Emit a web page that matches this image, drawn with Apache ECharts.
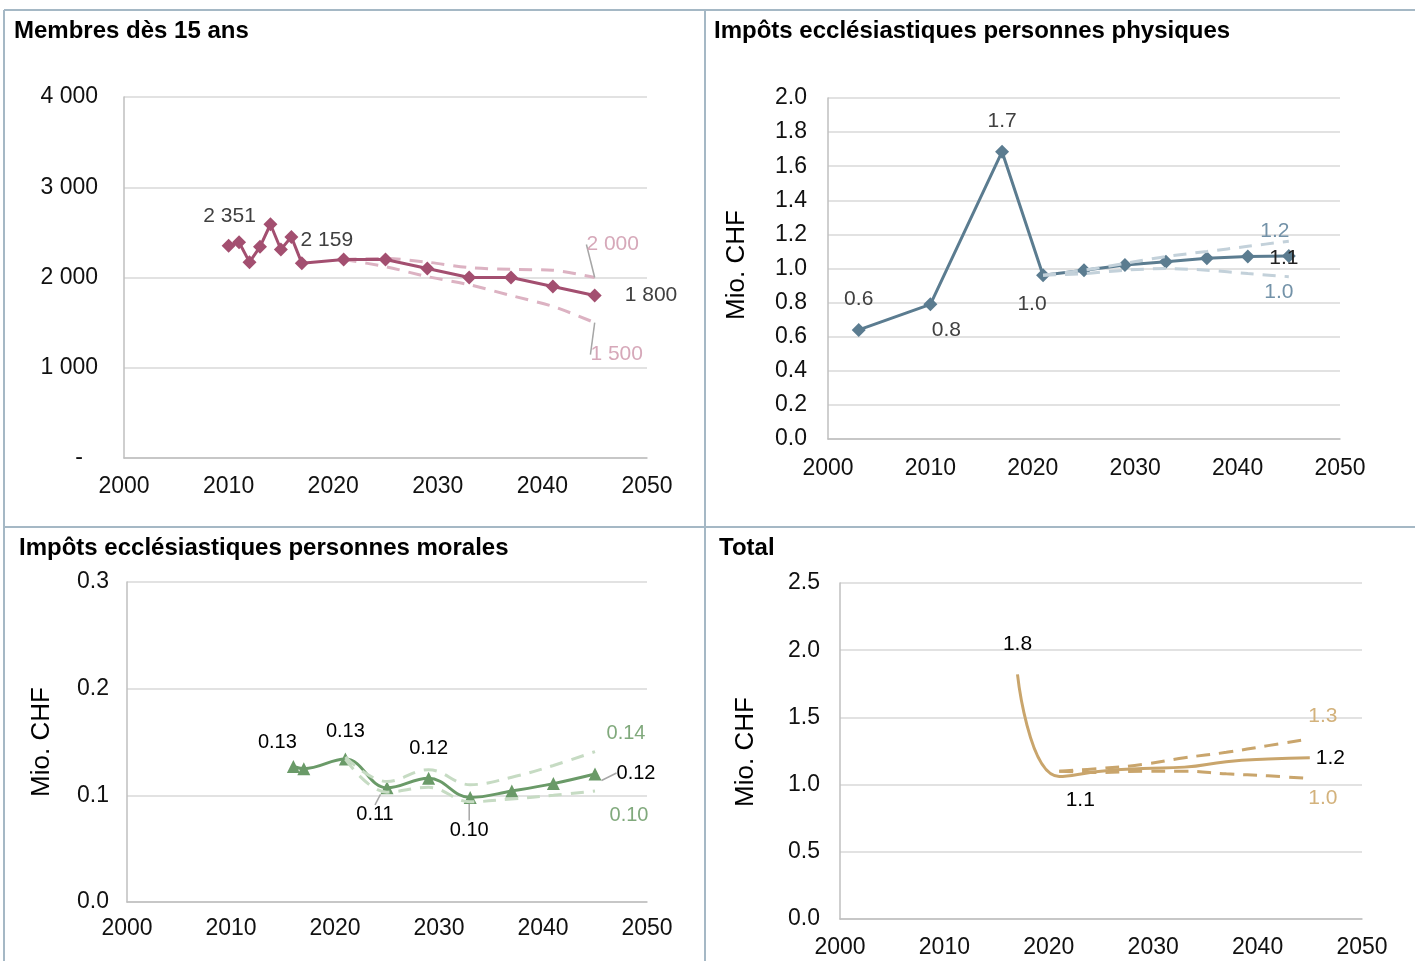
<!DOCTYPE html>
<html><head><meta charset="utf-8">
<script src="https://cdn.jsdelivr.net/npm/echarts@6/dist/echarts.min.js"></script>
<style>html,body{margin:0;padding:0;background:#fff}#c{width:1415px;height:961px}</style>
</head><body><div id="c"></div>
<script>
// ---------- data ----------
const xTicks = [2000, 2010, 2020, 2030, 2040, 2050];

const membersYears = [2010,2011,2012,2013,2014,2015,2016,2017,2021,2025,2029,2033,2037,2041,2045];
const membersValues = [2351,2390,2170,2340,2590,2310,2450,2159,2200,2200,2100,2000,2000,1900,1800];
const projYears = [2021,2025,2029,2033,2037,2041,2045];
const membersHigh = [2200,2210,2170,2110,2090,2080,2000];
const membersLow  = [2200,2120,2010,1920,1800,1680,1500];

const physYears = [2003,2010,2017,2021,2025,2029,2033,2037,2041,2045];
const physValues = [0.64,0.79,1.685,0.96,0.99,1.02,1.04,1.06,1.07,1.073];
const physHigh = [0.96,0.99,1.03,1.07,1.10,1.13,1.16];
const physLow  = [0.96,0.97,0.99,1.00,0.99,0.97,0.952];

const moralYears = [2016,2017,2021,2025,2029,2033,2037,2041,2045];
const moralValues = [0.127,0.125,0.134,0.107,0.116,0.098,0.104,0.111,0.12];
const moralHigh = [0.136,0.113,0.124,0.110,0.117,0.128,0.141];
const moralLow  = [0.134,0.103,0.1075,0.094,0.0966,0.100,0.104];

const totalYears = [2017,2021,2025,2029,2033,2037,2041,2045];
const totalValues = [1.82,1.06,1.10,1.12,1.13,1.17,1.19,1.20];
const totalHigh = [1.10,1.12,1.15,1.20,1.24,1.29,1.34];
const totalLow  = [1.10,1.09,1.10,1.10,1.08,1.065,1.045];

const titles = ['Membres dès 15 ans','Impôts ecclésiastiques personnes physiques','Impôts ecclésiastiques personnes morales','Total'];
const yName = 'Mio. CHF';

// ---------- helpers ----------
const font = "'Liberation Sans', Arial, sans-serif";
const thou = v => { const s = String(Math.round(v)); return s.replace(/\B(?=(\d{3})+(?!\d))/g, ' '); };
const f1 = p => p.value[1].toFixed(1);
const f2 = p => p.value[1].toFixed(2);
const fT = p => thou(p.value[1]);

function mk(gi, years, vals, o) {
  const labels = o.labels || {};
  const data = years.map((y, i) => {
    const L = labels[i];
    const item = { value: [y, vals[i]] };
    if (L) {
      item.label = Object.assign({ show: true }, L.label || { position: 'inside' });
      if (L.line) item.labelLine = { show: true, lineStyle: { color: '#a6a6a6', width: 1.5 } };
    } else {
      item.label = { show: false };
    }
    return item;
  });
  return {
    type: 'line', xAxisIndex: gi, yAxisIndex: gi, data,
    smooth: o.smooth || false,
    symbol: o.symbol || 'circle',
    symbolSize: o.symbolSize != null ? o.symbolSize : 0,
    showSymbol: true,
    itemStyle: { color: o.color },
    lineStyle: { color: o.color, width: 3, type: o.dash ? o.dash : 'solid', cap: 'butt' },
    z: o.z || 2,
    label: { show: false, fontFamily: font, fontSize: o.labelSize || 20, color: o.labelColor, formatter: o.fmt },
    labelLayout: function (p) { const L = labels[p.dataIndex]; return (L && L.d) ? { dx: L.d[0], dy: L.d[1] } : {}; },
    animation: false, silent: true
  };
}

function xAx(gi, margin) {
  return { type: 'value', gridIndex: gi, min: 2000, max: 2050, interval: 10,
    axisLine: { show: true, lineStyle: { color: '#bfbfbf', width: 1.5 } },
    axisTick: { show: false }, splitLine: { show: false },
    axisLabel: { fontFamily: font, fontSize: 23, color: '#111', margin: margin,
      customValues: xTicks, formatter: v => String(v) } };
}
function yAx(gi, min, max, interval, margin, fmt) {
  return { type: 'value', gridIndex: gi, min, max, interval,
    axisLine: { show: true, lineStyle: { color: '#bfbfbf', width: 1.5 } },
    axisTick: { show: false },
    splitLine: { show: true, lineStyle: { color: '#d9d9d9', width: 1.5 } },
    axisLabel: { fontFamily: font, fontSize: 23, color: '#111', margin: margin, formatter: fmt,
      rich: { d: { fontFamily: font, fontSize: 23, color: '#111', padding: [0, 15, 0, 0] } } } };
}

// colours
const c1 = '#a34f70', c1d = '#dcb2c2', c1l = '#d6a8b9';
const c2 = '#5b7c90', c2d = '#c3d1da', c2l = '#7392a8';
const c3 = '#6a9a68', c3d = '#c6dbc3', c3l = '#80a97c';
const c4 = '#c9a56c', c4l = '#d3b27c';

const series = [
  // panel 1
  mk(0, projYears, membersHigh, { color: c1d, dash: [13, 9], smooth: 0.3, fmt: fT, labelColor: c1l, labelSize: 21, z: 1,
    labels: { 6: { d: [18, -33], line: true } } }),
  mk(0, projYears, membersLow, { color: c1d, dash: [13, 9], smooth: 0.3, fmt: fT, labelColor: c1l, labelSize: 21, z: 1,
    labels: { 6: { d: [22, 32], line: true } } }),
  mk(0, membersYears, membersValues, { color: c1, symbol: 'diamond', symbolSize: 14, fmt: fT, labelColor: '#404040', labelSize: 21, z: 3,
    labels: { 0: { d: [1, -30] },
              7: { d: [25, -23] },
              14: { label: { position: 'right', distance: 23 } } } }),
  // panel 2
  mk(1, physYears, physValues, { color: c2, symbol: 'diamond', symbolSize: 14, fmt: f1, labelColor: '#404040', labelSize: 21, z: 2,
    labels: { 0: { label: { position: 'top', distance: 13 } },
              1: { d: [16, 26] },
              2: { label: { position: 'top', distance: 13 } },
              3: { d: [-11, 29] },
              9: { d: [-5, 2], label: { position: 'inside', color: '#222' } } } }),
  mk(1, projYears, physHigh, { color: c2d, dash: [13, 9], smooth: 0.3, fmt: f1, labelColor: c2l, labelSize: 21, z: 3,
    labels: { 6: { d: [-14, -10] } } }),
  mk(1, projYears, physLow, { color: c2d, dash: [13, 9], smooth: 0.3, fmt: f1, labelColor: c2l, labelSize: 21, z: 3,
    labels: { 6: { d: [-10, 16] } } }),
  // panel 3
  mk(2, moralYears, moralValues, { color: c3, symbol: 'triangle', symbolSize: 13, smooth: 0.4, fmt: f2, labelColor: '#000', z: 2,
    labels: { 0: { d: [-16, -24] },
              2: { label: { position: 'top', distance: 11 } },
              4: { label: { position: 'top', distance: 13 } },
              3: { d: [-12, 27], line: true },
              5: { d: [-1, 33], line: true },
              8: { d: [41, -1], line: true } } }),
  mk(2, projYears, moralHigh, { color: c3d, dash: [13, 9], smooth: 0.4, fmt: f2, labelColor: c3l, z: 3,
    labels: { 6: { d: [31, -18] } } }),
  mk(2, projYears, moralLow, { color: c3d, dash: [13, 9], smooth: 0.4, fmt: f2, labelColor: c3l, z: 3,
    labels: { 6: { d: [34, 24] } } }),
  // panel 4
  mk(3, projYears, totalHigh, { color: c4, dash: [14, 9], smooth: 0.4, fmt: f1, labelColor: c4l, labelSize: 21, z: 1,
    labels: { 6: { d: [13, -23] } } }),
  mk(3, projYears, totalLow, { color: c4, dash: [14, 9], smooth: 0.4, fmt: f1, labelColor: c4l, labelSize: 21, z: 1,
    labels: { 6: { d: [13, 20] } } }),
  mk(3, totalYears, totalValues, { color: c4, smooth: 0.5, fmt: f1, labelColor: '#000', labelSize: 21, z: 2,
    labels: { 0: { label: { position: 'top', distance: 20 } },
              1: { d: [21, 24] },
              7: { label: { position: 'right', distance: 6 } } } })
];

const border = { stroke: '#a5b8c5', lineWidth: 2 };
const titleFont = "bold 24px 'Liberation Sans', Arial, sans-serif";
const nameFont = "26px 'Liberation Sans', Arial, sans-serif";

const option = {
  backgroundColor: '#fff',
  animation: false,
  grid: [
    { left: 124, right: 768, top: 97, bottom: 503 },
    { left: 828, right: 75, top: 98, bottom: 522 },
    { left: 127, right: 768, top: 582, bottom: 59 },
    { left: 840, right: 53, top: 583, bottom: 42 }
  ],
  xAxis: [xAx(0, 17), xAx(1, 18), xAx(2, 15), xAx(3, 17)],
  yAxis: [
    yAx(0, 0, 4000, 1000, 26, v => v === 0 ? '{d|-}' : thou(v)),
    yAx(1, 0, 2, 0.2, 21, v => v.toFixed(1)),
    yAx(2, 0, 0.3, 0.1, 18, v => v.toFixed(1)),
    yAx(3, 0, 2.5, 0.5, 20, v => v.toFixed(1))
  ],
  series,
  graphic: [
    { type: 'line', shape: { x1: 4, y1: 10, x2: 1415, y2: 10 }, style: border, silent: true },
    { type: 'line', shape: { x1: 4, y1: 10, x2: 4, y2: 961 }, style: border, silent: true },
    { type: 'line', shape: { x1: 705, y1: 10, x2: 705, y2: 961 }, style: border, silent: true },
    { type: 'line', shape: { x1: 4, y1: 527, x2: 1415, y2: 527 }, style: border, silent: true },
    { type: 'text', x: 14, y: 31, style: { text: titles[0], font: titleFont, fill: '#000', align: 'left', verticalAlign: 'middle' } },
    { type: 'text', x: 714, y: 31, style: { text: titles[1], font: titleFont, fill: '#000', align: 'left', verticalAlign: 'middle' } },
    { type: 'text', x: 19, y: 548, style: { text: titles[2], font: titleFont, fill: '#000', align: 'left', verticalAlign: 'middle' } },
    { type: 'text', x: 719, y: 548, style: { text: titles[3], font: titleFont, fill: '#000', align: 'left', verticalAlign: 'middle' } },
    { type: 'text', x: 737, y: 265, rotation: Math.PI / 2, style: { text: yName, font: nameFont, fill: '#000', align: 'center', verticalAlign: 'middle' } },
    { type: 'text', x: 42, y: 742, rotation: Math.PI / 2, style: { text: yName, font: nameFont, fill: '#000', align: 'center', verticalAlign: 'middle' } },
    { type: 'text', x: 746, y: 752, rotation: Math.PI / 2, style: { text: yName, font: nameFont, fill: '#000', align: 'center', verticalAlign: 'middle' } }
  ]
};

const chart = echarts.init(document.getElementById('c'), null, { renderer: 'canvas' });
chart.setOption(option);
</script>
</body></html>
